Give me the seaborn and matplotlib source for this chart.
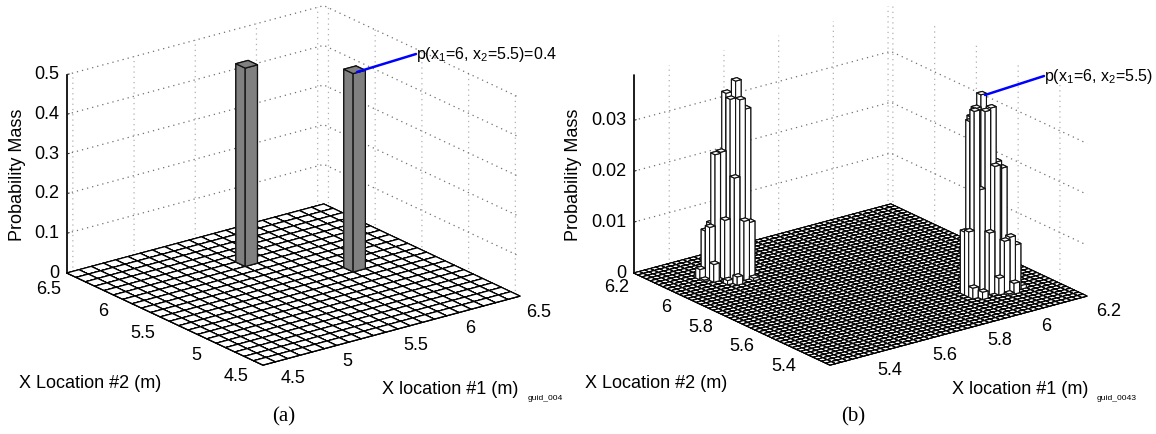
import numpy as np
import matplotlib
matplotlib.use("Agg")
import matplotlib.pyplot as plt
import seaborn as sns
from matplotlib.lines import Line2D
from matplotlib.transforms import Bbox
from mpl_toolkits.mplot3d import proj3d

W, H = 1156, 434

# Panel (a) data
a_x1 = [5.5, 6.0]
a_x2 = [6.0, 5.5]
a_mass = [0.5, 0.5]
a_ticks = [4.5, 5, 5.5, 6, 6.5]
a_tick_labels = ["4.5", "5", "5.5", "6", "6.5"]
a_zticks = [0, 0.1, 0.2, 0.3, 0.4, 0.5]
a_ztick_labels = ["0", "0.1", "0.2", "0.3", "0.4", "0.5"]

# Panel (b) data: peak near x1=6, x2=5.5
b1_x1 = [6.00, 5.98, 6.00, 6.02, 5.96, 5.96, 5.98, 5.98, 6.00, 6.02, 6.04, 6.06, 6.04,
         6.06, 6.08, 5.94, 5.94, 6.02, 6.06, 6.10, 6.04, 5.94, 5.96, 6.00, 6.02]
b1_x2 = [5.50, 5.50, 5.48, 5.48, 5.48, 5.50, 5.52, 5.48, 5.46, 5.46, 5.48, 5.48, 5.44,
         5.44, 5.44, 5.48, 5.50, 5.44, 5.42, 5.44, 5.42, 5.46, 5.44, 5.52, 5.50]
b1_mass = [0.0385, 0.0361, 0.0356, 0.0360, 0.0362, 0.0338, 0.0340, 0.0205, 0.0121, 0.0249, 0.0251, 0.0236, 0.0103,
           0.0108, 0.0090, 0.0128, 0.0124, 0.0033, 0.0021, 0.0007, 0.0003, 0.0021, 0.0014, 0.0340, 0.0330]

# Panel (b) data: peak near x1=5.5, x2=6
b2_x1 = [5.50, 5.48, 5.48, 5.50, 5.52, 5.46, 5.44, 5.48, 5.46, 5.50, 5.52, 5.44, 5.42,
         5.42, 5.42, 5.40, 5.40, 5.46, 5.44, 5.52, 5.50, 5.52]
b2_x2 = [6.02, 6.04, 6.02, 6.00, 6.00, 6.04, 6.04, 6.00, 6.02, 5.98, 5.98, 6.06, 6.04,
         6.06, 6.02, 6.06, 6.04, 5.96, 5.98, 5.96, 6.04, 6.02]
b2_mass = [0.0384, 0.0359, 0.0351, 0.0351, 0.0330, 0.0246, 0.0244, 0.0200, 0.0116, 0.0116, 0.0111, 0.0105, 0.0104,
           0.0093, 0.0035, 0.0020, 0.0003, 0.0016, 0.0008, 0.0005, 0.0340, 0.0330]
b_ticks = [5.4, 5.6, 5.8, 6.0, 6.2]
b_tick_labels = ["5.4", "5.6", "5.8", "6", "6.2"]
b_zticks = [0, 0.01, 0.02, 0.03]
b_ztick_labels = ["0", "0.01", "0.02", "0.03"]

sns.set_theme(style="white", rc={"axes.grid": False, "mathtext.default": "regular"})
plt.rcParams["font.family"] = ["Liberation Sans", "DejaVu Sans"]

fig = plt.figure(figsize=(W / 100, H / 100), dpi=100, facecolor="white")


def fx(x):
    return x / W


def fy(y):
    return 1 - y / H


def label(x, y, s, clip=None, **kw):
    t = fig.text(fx(x), fy(y), s, color="black", **kw)
    if clip is not None:
        t.set_clip_on(True)
        t.set_clip_box(Bbox([[0, 0], [clip, H]]))
    return t


def panel(bottom_px, right_px, left_px, lim, cell, zlim, ticks, labels, zticks, zlabels,
          bars, bar_color, floor_lw, bar_lw, yoff):
    ax = fig.add_axes([0, 0, 1, 1], projection="3d", proj_type="ortho", computed_zorder=False)
    ax.set_facecolor("none")
    ax.view_init(elev=20.8, azim=-127.1)
    ax.set_box_aspect((322, 325, 212))
    ax.set_xlim(*lim)
    ax.set_ylim(*lim)
    ax.set_zlim(*zlim)

    def to_px(x, y, z):
        xs, ys, _ = proj3d.proj_transform(np.atleast_1d(x), np.atleast_1d(y), np.atleast_1d(z), ax.get_proj())
        p = ax.transData.transform(np.column_stack([xs, ys]))
        p[:, 1] = H - p[:, 1]
        return p

    # Fit scale and location so that the floor corners land where wanted
    S = 500.0
    cx, cy = 300.0, 200.0
    target = np.array([bottom_px, right_px, left_px], float)
    xc = np.array([lim[0], lim[1], lim[0]])
    yc = np.array([lim[0], lim[0], lim[1]])
    zc = np.zeros(3) + zlim[0]

    def put():
        ax.set_position([(cx - S / 2) / W, (cy - S / 2) / H, S / W, S / H])
        ax.apply_aspect()

    for _ in range(4):
        put()
        p = to_px(xc, yc, zc)
        S *= np.linalg.norm(target[1] - target[2]) / np.linalg.norm(p[1] - p[2])
        put()
        p = to_px(xc, yc, zc)
        d = (target - p).mean(axis=0)
        cx += d[0]
        cy -= d[1]
    put()

    # Floor
    edges = np.arange(lim[0], lim[1] - cell / 2, cell)
    gx, gy = np.meshgrid(edges, edges)
    ax.bar3d(gx.ravel(), gy.ravel(), np.zeros(gx.size), cell, cell, 0, color="white",
             edgecolor="black", linewidth=floor_lw, shade=False, zorder=1)

    # Bars back to front
    bx1, bx2, bh = bars
    for k, i in enumerate(np.argsort(-(np.array(bx1) + np.array(bx2)), kind="stable")):
        ax.bar3d(bx1[i] - cell / 2, bx2[i] - cell / 2, 0, cell, cell, bh[i], color=bar_color,
                 edgecolor="#111111", linewidth=bar_lw, shade=False, zorder=2 + k)

    # Axes dressing
    ax.set_xticks(ticks)
    ax.set_yticks(ticks)
    ax.set_zticks(zticks)
    ax.set_xticklabels([])
    ax.set_yticklabels([])
    ax.set_zticklabels([])
    for axis, col in ((ax.xaxis, "#b0b0b0"), (ax.yaxis, "#b0b0b0"), (ax.zaxis, "#707070")):
        axis.set_pane_color((1, 1, 1, 0))
        axis.pane.set_edgecolor("none")
        axis._axinfo["grid"].update(color=col, linestyle=(0, (1, 3.2)), linewidth=0.9)
        axis._axinfo["tick"].update(inward_factor=0.0, outward_factor=0.12)
        axis._axinfo["tick"]["linewidth"] = {True: 0.8, False: 0.6}
        axis._axinfo["tick"]["color"] = "black"
        axis._axinfo["axisline"]["linewidth"] = 0.8
        axis._axinfo["axisline"]["color"] = (0, 0, 0, 0)
        axis.line.set_color((0, 0, 0, 0))
    ax.zaxis._axinfo["axisline"]["color"] = "black"
    ax.zaxis.line.set_color("black")
    ax.grid(True)

    # Tick labels, placed from the axes' own projection
    for v, s in zip(ticks, labels):
        p = to_px(v, lim[0], zlim[0])[0]
        label(p[0] + 12, p[1] + 14.5, s, ha="left", va="center", fontsize=13)
        p = to_px(lim[0], v, zlim[0])[0]
        label(p[0] + yoff, p[1] + 14, s, ha="right", va="center", fontsize=13)
    for v, s in zip(zticks, zlabels):
        p = to_px(lim[0], lim[1], v)[0]
        label(p[0] - 7, p[1], s, ha="right", va="center", fontsize=13)
    return ax


panel((263, 365), (520, 296), (66.7, 273.3), (4.45, 6.55), 0.1, (0, 0.5),
      a_ticks, a_tick_labels, a_zticks, a_ztick_labels,
      (a_x1, a_x2, a_mass), "#808080", 0.85, 0.9, -10)

panel((830.7, 365), (1086.7, 296), (633.3, 273.3), (5.27, 6.21), 0.02, (0, 0.039),
      b_ticks, b_tick_labels, b_zticks, b_ztick_labels,
      (b1_x1 + b2_x1, b1_x2 + b2_x2, b1_mass + b2_mass), "white", 0.8, 0.8, -6.5)

# Axis titles, captions and call-outs
label(18, 175, "Probability Mass", rotation=90, ha="center", va="center", fontsize=13)
label(90, 384, "X Location #2 (m)", ha="center", va="center", fontsize=13)
label(450, 389, "X location #1 (m)", ha="center", va="center", fontsize=13)
label(284, 417, "(a)", ha="center", va="center", fontsize=15, family="Liberation Serif")
label(528, 399, "guid_004", ha="left", va="center", fontsize=6.1)

label(574, 175, "Probability Mass", rotation=90, ha="center", va="center", fontsize=13)
label(656, 384, "X Location #2 (m)", ha="center", va="center", fontsize=13)
label(1020, 389, "X location #1 (m)", ha="center", va="center", fontsize=13)
label(853, 417, "(b)", ha="center", va="center", fontsize=15, family="Liberation Serif")
label(1097, 398, "guid_0043", ha="left", va="center", fontsize=6.1)

fig.add_artist(Line2D([fx(357), fx(416)], [fy(72), fy(54)], color="#0000ff", lw=1.8, zorder=5))
label(416, 54, r"p(x$_1$=6, x$_2$=5.5)=0.4", ha="left", va="center", fontsize=11.5)
fig.add_artist(Line2D([fx(985), fx(1044)], [fy(95), fy(76)], color="#0000ff", lw=1.8, zorder=5))
label(1044, 77, r"p(x$_1$=6, x$_2$=5.5)", ha="left", va="center", fontsize=11.5)

fig.savefig("out.png", dpi=100, facecolor="white")
